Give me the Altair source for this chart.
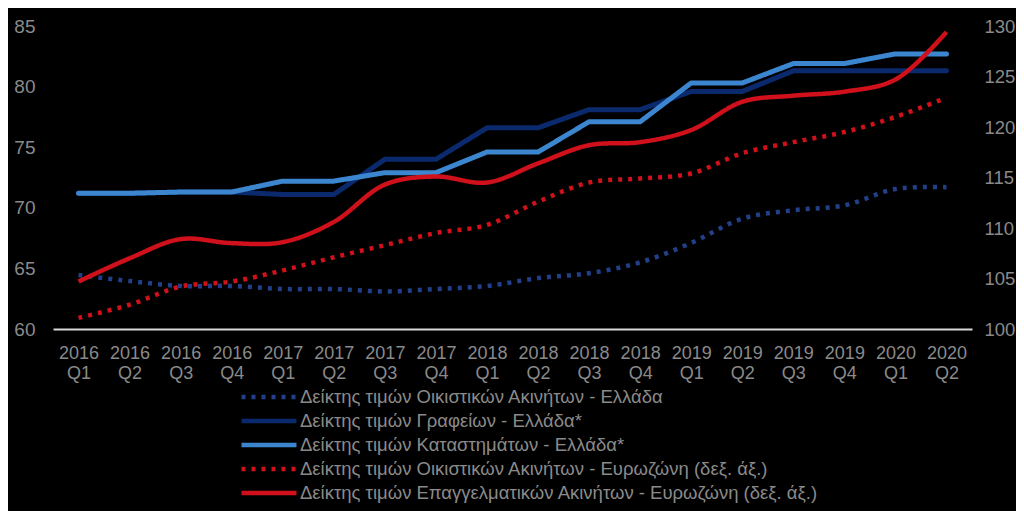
import altair as alt
import pandas as pd

quarters = ["2016 Q1", "2016 Q2", "2016 Q3", "2016 Q4",
            "2017 Q1", "2017 Q2", "2017 Q3", "2017 Q4",
            "2018 Q1", "2018 Q2", "2018 Q3", "2018 Q4",
            "2019 Q1", "2019 Q2", "2019 Q3", "2019 Q4",
            "2020 Q1", "2020 Q2"]

res_gr = [64.45, 63.96, 63.55, 63.55, 63.3, 63.3, 63.1, 63.3, 63.55,
          64.2, 64.6, 65.5, 67.1, 69.1, 69.8, 70.2, 71.55, 71.7]
offices_gr = [71.2, 71.2, 71.3, 71.3, 71.1, 71.1, 74.0, 74.0, 76.6,
              76.6, 78.1, 78.1, 79.6, 79.6, 81.3, 81.3, 81.3, 81.3]
stores_gr = [71.2, 71.2, 71.3, 71.3, 72.2, 72.2, 72.9, 72.9, 74.6,
             74.6, 77.1, 77.1, 80.3, 80.3, 81.9, 81.9, 82.7, 82.7]
res_ez = [101.1, 102.4, 104.2, 104.7, 105.8, 107.1, 108.3, 109.5, 110.3,
          112.6, 114.5, 114.9, 115.4, 117.4, 118.5, 119.5, 121.0, 122.9]
com_ez = [104.7, 107.0, 108.9, 108.5, 108.6, 110.6, 114.3, 115.1, 114.5,
          116.4, 118.2, 118.5, 119.7, 122.5, 123.1, 123.5, 124.7, 129.4]

names = [
    "Δείκτης τιμών Οικιστικών Ακινήτων - Ελλάδα",
    "Δείκτης τιμών Γραφείων - Ελλάδα*",
    "Δείκτης τιμών Καταστημάτων  - Ελλάδα*",
    "Δείκτης τιμών Οικιστικών Ακινήτων - Ευρωζώνη (δεξ. άξ.)",
    "Δείκτης τιμών Επαγγελματικών Ακινήτων - Ευρωζώνη (δεξ. άξ.)",
]
colors = ["#22408a", "#0b2a6e", "#3b86cf", "#d0101a", "#d0101a"]
dashes = [[4, 6], [1, 0], [1, 0], [4, 6], [1, 0]]
series_vals = [res_gr, offices_gr, stores_gr, res_ez, com_ez]
groups = ["left_smooth", "left_lin", "left_lin", "right_smooth", "right_smooth"]

rows = []
for n, vals, g in zip(names, series_vals, groups):
    for q, v in zip(quarters, vals):
        rows.append({"quarter": q, "value": v, "series": n, "group": g})
df = pd.DataFrame(rows)

FONT = "Liberation Sans"
GRAY = "#8a8a8a"

x_enc = alt.X("quarter:N", sort=quarters, title=None,
              scale=alt.Scale(paddingInner=0, paddingOuter=0.0),
              axis=alt.Axis(labelExpr="split(datum.label, ' ')", labelAngle=0,
                            labelColor=GRAY, labelFontSize=18, labelFont=FONT,
                            labelLineHeight=20, labelPadding=15, ticks=False,
                            domainColor="#d9d9d9", domainWidth=2, grid=False))

leg = alt.Legend(title=None, orient="none", legendX=186, legendY=357,
                 symbolType="M-1,0H3.78", symbolSize=529,
                 symbolStrokeWidth=4.5, labelFont=FONT,
                 labelFontSize=18.5, labelColor=GRAY,
                 rowPadding=0, labelOffset=33, labelLimit=700)

color_enc = alt.Color("series:N", scale=alt.Scale(domain=names, range=colors), legend=leg)
dash_enc = alt.StrokeDash("series:N", scale=alt.Scale(domain=names, range=dashes), legend=leg)

left_axis = alt.Axis(values=[60, 65, 70, 75, 80, 85], labelColor=GRAY, labelFontSize=19,
                     labelFont=FONT, domain=False, ticks=False, grid=False, labelPadding=18)
right_axis = alt.Axis(orient="right", values=[100, 105, 110, 115, 120, 125, 130],
                      labelColor=GRAY, labelFontSize=18.5, labelFont=FONT, domain=False,
                      ticks=False, grid=False, labelPadding=12)

y_left = alt.Y("value:Q", title=None, scale=alt.Scale(domain=[60, 85], nice=False, zero=False),
               axis=left_axis)
y_right = alt.Y("value:Q", title=None, scale=alt.Scale(domain=[100, 130], nice=False, zero=False),
                axis=right_axis)

base = alt.Chart(df)

l_smooth = base.transform_filter("datum.group == 'left_smooth'").mark_line(
    interpolate="catmull-rom", strokeWidth=4.5
).encode(x=x_enc, y=y_left, color=color_enc, strokeDash=dash_enc)

l_lin = base.transform_filter("datum.group == 'left_lin'").mark_line(
    strokeWidth=5, strokeCap="round", strokeJoin="round"
).encode(x=x_enc, y=y_left, color=color_enc, strokeDash=dash_enc)

left = alt.layer(l_smooth, l_lin)

right = base.transform_filter("datum.group == 'right_smooth'").mark_line(
    interpolate="catmull-rom", strokeWidth=4.5
).encode(x=x_enc, y=y_right, color=color_enc, strokeDash=dash_enc)

chart = alt.layer(left, right).resolve_scale(y="independent").properties(
    width=919, height=303,
    background="#000000",
    autosize=alt.AutoSizeParams(type="none"),
    padding={"left": 45, "top": 18, "right": 44, "bottom": 182},
).configure_view(stroke=None)

chart.save("out.html", embed_options={"renderer": "svg", "actions": False})
